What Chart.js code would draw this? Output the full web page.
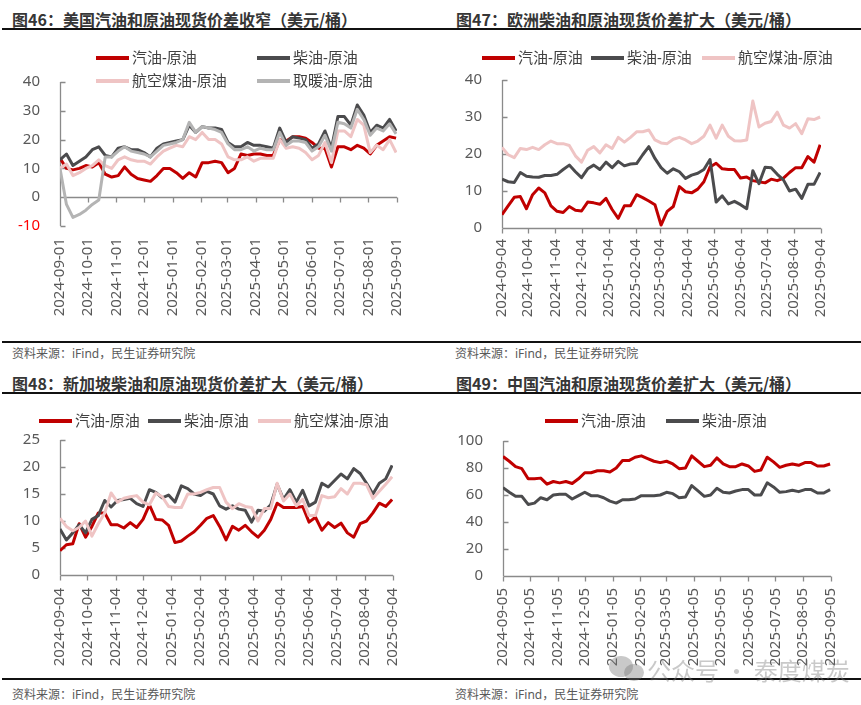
<!DOCTYPE html>
<html>
<head>
<meta charset="utf-8">
<script src="https://cdn.jsdelivr.net/npm/chart.js@4.4.1/dist/chart.umd.min.js"></script>
<style>
body{margin:0;width:861px;height:705px;position:relative;background:#fff;overflow:hidden;font-family:"Noto Sans","Noto Sans CJK SC",sans-serif}
canvas{position:absolute}
.t{position:absolute;font-weight:bold;font-size:16px;line-height:18px;color:#363636;white-space:nowrap;font-family:"Noto Sans CJK SC",sans-serif}
.hr{position:absolute;left:2px;width:859px;height:1.5px;background:#111}
.src{position:absolute;font-size:12px;line-height:14px;color:#595959;white-space:nowrap}
.lg{position:absolute;font-size:15px;line-height:18px;color:#404040;white-space:nowrap;z-index:2}
.lg i{display:inline-block;width:33px;height:3.5px;vertical-align:middle;margin-right:3px;position:relative;top:-1px}
.wm{position:absolute;left:647px;top:652px;font-size:24px;color:rgba(120,120,120,0.4);white-space:nowrap;font-family:"Noto Sans CJK SC",sans-serif;z-index:3}
.ic{position:absolute;border-radius:50%;background:rgba(120,120,120,0.4);z-index:3}
</style>
</head>
<body>
<div class="t" style="left:12px;top:10px">图46：美国汽油和原油现货价差收窄（美元/桶）</div>
<div class="t" style="left:456px;top:10px">图47：欧洲柴油和原油现货价差扩大（美元/桶）</div>
<div class="t" style="left:12px;top:374px">图48：新加坡柴油和原油现货价差扩大（美元/桶）</div>
<div class="t" style="left:456px;top:374px">图49：中国汽油和原油现货价差扩大（美元/桶）</div>
<div class="hr" style="top:28px"></div>
<div class="hr" style="top:341px"></div>
<div class="hr" style="top:392px"></div>
<div class="hr" style="top:678px"></div>
<div class="src" style="left:12px;top:347px">资料来源：iFind，民生证券研究院</div>
<div class="src" style="left:455px;top:347px">资料来源：iFind，民生证券研究院</div>
<div class="src" style="left:12px;top:688px">资料来源：iFind，民生证券研究院</div>
<div class="src" style="left:455px;top:688px">资料来源：iFind，民生证券研究院</div>
<div id="legends"></div>
<canvas id="c1"></canvas>
<canvas id="c2"></canvas>
<canvas id="c3"></canvas>
<canvas id="c4"></canvas>
<div class="ic" style="left:609px;top:656px;width:24px;height:21px"></div>
<div class="ic" style="left:624px;top:664px;width:20px;height:17px"></div>
<div class="wm">公众号 · 泰度煤炭</div>
<script>
const RED = '#c00000', DARK = '#4b4b4d', PINK = '#efc4c4', LIGHT = '#b4b4b4';
const FONT = '"Noto Sans", "Noto Sans CJK SC", sans-serif';

// tick labels
const usTicks = ['2024-09-01','2024-10-01','2024-11-01','2024-12-01','2025-01-01','2025-02-01','2025-03-01','2025-04-01','2025-05-01','2025-06-01','2025-07-01','2025-08-01','2025-09-01'];
const euTicks = ['2024-09-04','2024-10-04','2024-11-04','2024-12-04','2025-01-04','2025-02-04','2025-03-04','2025-04-04','2025-05-04','2025-06-04','2025-07-04','2025-08-04','2025-09-04'];
const sgTicks = euTicks.slice();
const cnTicks = ['2024-09-05','2024-10-05','2024-11-05','2024-12-05','2025-01-05','2025-02-05','2025-03-05','2025-04-05','2025-05-05','2025-06-05','2025-07-05','2025-08-05','2025-09-05'];

// weekly values, US
const usGas = [13.5,10,9.5,10,11,10.5,12,8,7,7.5,10.5,8,6.5,6,5.5,7.5,10,10,8.5,6.5,8.5,7,12,12,12.5,12,8.5,10,15,14.5,15,15,14.5,14.5,20,19.5,21,21,20.5,19,17,17,10.5,17.5,17.5,16.5,18,17,15,18,19.5,21,20.5];
const usDiesel = [13,15,11,12.5,14,16.5,17.5,14.5,14,17,17.5,16.5,16.5,15.5,14,17,18.5,19,19.5,20,25,22.5,24.5,24,24,23.5,19,17.5,17.5,19,18,18,17.5,17,24,19,21,20.5,20,17,18.5,23,17,28,28,25,32,28.5,22.5,25,24,27,23];
const usJet = [10,11.5,7.5,8.5,10,11,13,11,10,13,14,13,12.5,12.5,11.5,14,16,17,18,17.5,21,20,22.5,20,20,18.5,14,13,13,14,12.5,13.5,13.5,13.5,20,17,17.5,17,15.5,13,14.5,19,12,23,23,21,27,25,15.5,18,16.5,20,15.5];
const usHeat = [10,-2.5,-7,-6,-4.5,-2.5,-1,14,14,16,17.5,16,15.5,15,14,16,18,18.5,19,20,26,22.5,24.5,24,23.5,22.5,18.5,16.5,16.5,17.5,16,17,16.5,16.5,22.5,18,19.5,19.5,19,16,17.5,21.5,16,26,25.5,24,30.5,27,21.5,24,23,25.5,22];

// Europe
const euGas = [3.6,6,8.3,8.5,5.2,9,10.8,9.5,6,4.5,4.2,5.8,4.8,4.6,7,6.8,6.4,8,5,2.6,6,6,9,8.2,7.3,6.3,0.8,4.5,5.8,11.2,9.8,9.5,10.5,12.5,16.5,17.5,16,15.8,15.8,13.5,13.8,12.8,12.5,12.2,13.2,12.8,13.5,15,16.3,16.3,19.3,17.8,22.5];
const euDiesel = [13.2,12.5,12.3,15,14,13.8,13.7,14.2,14.2,14.5,15.8,17,15.2,13.6,16,17,15.8,17.8,16.3,18,16.8,17.3,17.4,19.8,22,18.8,16.3,14.8,16,15.2,13.4,14.3,14.8,15.8,18.5,7,8.7,6.5,7.2,6.3,5.2,15.5,12,16.4,16.3,14.5,13,10,10.5,8,11.8,11.8,15];
const euJet = [21.8,19.8,19,21.5,21.2,21.8,21.2,22.5,23.5,22.8,22.8,22.3,19.5,17.8,21,22,20.3,22.5,21.5,24.5,23.2,24.5,26,26,26.5,23.8,23,22.8,24,24.5,23.8,22.8,23.5,24.8,27.8,24.3,27.8,24.8,23.6,23.5,23.8,34.3,27.3,28.3,28.8,31.3,27.8,27,28.2,25.5,29.5,29.3,30];

// Singapore
const sgGas = [4.5,5.6,5.8,9.5,7,9,11.5,11.5,9.3,9.3,8.7,9.7,8.8,10.3,13,10.3,10.2,9.2,6,6.3,7.2,8,9.2,10.5,11,9,6.5,9,8.3,9.2,8,7,8.3,10.3,13.3,12.5,12.5,12.5,12.7,9.8,10.7,8.3,9.7,8.8,9.6,7.8,7,9.5,10,11.5,13.3,12.7,14];
const sgDiesel = [8.5,6.5,7.8,9.3,7.8,10.3,11,13.8,12.6,13.8,14,14.2,13.2,12.7,15.8,15.3,14.3,14.8,13.5,16.5,16,15,14.7,15.5,15,12.8,12.2,12.8,12.2,12,9.8,12,11.8,13,16.8,14,15.8,13.5,15.7,12.8,13.5,17,16.3,17.5,18.7,17.8,19.7,18.8,17,15,17,17.8,20.3];
const sgJet = [10.5,9,8.2,8.8,10,7.2,9.5,11.5,15.2,13.5,14.2,14.5,14.7,13.5,13,15.2,14.5,12.7,12.5,12.5,15,15,15.3,15.8,16.2,16.2,13.5,12.3,13.2,12.7,12.5,10,12.3,12.3,17,13.7,15,12.8,14,11,11,14.7,14.3,14.5,16,15,17,17,16.7,14.2,15.5,16.8,18.2];

// China
const cnGas = [88.5,85,81,79.5,72,72,72.5,68,70,69,70,68.5,72,76.5,76.5,78,78,77,80,85.5,85.5,88,89,87,85,84,85,83,79.5,80,89,85,81,82,87.5,83,81,81,83,81.5,77.5,78.5,88,84.5,80.5,82,83,82,84,84,81.5,81.5,83];
const cnDiesel = [65.5,62,59,59,53,54,58,56.5,60,60.5,60.5,57,59.5,62,59.5,59.5,58,55.5,54,56.5,56.5,57,59.5,59.5,59.5,60,62,61,58,58.5,67,63,59,60,65,62,61.5,63,64,64,60,60,69,66,62,62.5,63.5,62.5,64,64,61.5,61.5,64];

const dayOf = (s, start) => Math.round((Date.parse(s) - Date.parse(start)) / 864e5);

// axis lines with inward y ticks and downward x ticks on the zero line
const axisLines = {
  id: 'axisLines',
  beforeDatasetsDraw(chart) {
    const {ctx, chartArea: a, scales: {x, y}} = chart;
    const y0 = Math.round(y.getPixelForValue(0)) + 0.5;
    const l = Math.round(a.left) + 0.5;
    ctx.save();
    ctx.strokeStyle = '#8a8a8a';
    ctx.lineWidth = 1.3;
    ctx.beginPath();
    ctx.moveTo(l, a.top); ctx.lineTo(l, a.bottom);
    y.ticks.forEach(t => {
      const py = Math.round(y.getPixelForValue(t.value)) + 0.5;
      ctx.moveTo(l, py); ctx.lineTo(l + 5, py);
    });
    ctx.moveTo(l, y0); ctx.lineTo(a.right, y0);
    x.ticks.forEach(t => {
      const px = Math.round(x.getPixelForValue(t.value)) + 0.5;
      ctx.moveTo(px, y0); ctx.lineTo(px, y0 + 5);
    });
    ctx.stroke();
    ctx.restore();
  }
};

function legend(items, y) {
  const box = document.getElementById('legends');
  items.forEach(([x, label, color]) => {
    const d = document.createElement('div');
    d.className = 'lg';
    d.style.left = x + 'px';
    d.style.top = (y - 9) + 'px';
    d.innerHTML = '<i style="background:' + color + '"></i>' + label;
    box.appendChild(d);
  });
}

function makeChart(id, box, plot, ticks, yMin, yMax, yStep, gap, series) {
  const cv = document.getElementById(id);
  cv.style.left = box[0] + 'px';
  cv.style.top = box[1] + 'px';
  cv.width = box[2];
  cv.height = box[3];
  const tickDays = ticks.map(t => dayOf(t, ticks[0]));
  const yw = plot[0] - box[0];
  const xh = box[1] + box[3] - plot[3];
  return new Chart(cv, {
    type: 'line',
    data: {
      datasets: series.map((s, i) => ({
        label: s[0],
        data: s[1].map((v, k) => ({x: k * 7, y: v})),
        borderColor: s[2],
        borderWidth: 3,
        pointRadius: 0,
        tension: 0,
        borderJoinStyle: 'round',
        order: series.length - i
      }))
    },
    options: {
      responsive: false,
      animation: false,
      layout: {padding: {left: 0, top: plot[1] - box[1], right: box[0] + box[2] - plot[2], bottom: 0}},
      plugins: {legend: {display: false}, tooltip: {enabled: false}},
      scales: {
        x: {
          type: 'linear', min: 0, max: tickDays[tickDays.length - 1],
          afterBuildTicks: sc => { sc.ticks = tickDays.map(v => ({value: v})); },
          afterFit: sc => { sc.height = xh; },
          grid: {display: false, drawTicks: false},
          border: {display: false},
          ticks: {autoSkip: false, maxRotation: 90, minRotation: 90, padding: gap, color: '#595959',
            font: {size: 15, family: FONT}, callback: (v, i) => ticks[i]}
        },
        y: {
          min: yMin, max: yMax,
          afterFit: sc => { sc.width = yw; },
          grid: {display: false, drawTicks: false},
          border: {display: false},
          ticks: {stepSize: yStep, padding: 20, font: {size: 15, family: FONT},
            color: c => c.tick.value < 0 ? '#ff0000' : '#595959'}
        }
      }
    },
    plugins: [axisLines]
  });
}

makeChart('c1', [0, 35, 430, 305], [60, 82, 397, 226], usTicks, -10, 40, 10, 12, [
  ['汽油-原油', usGas, RED], ['柴油-原油', usDiesel, DARK], ['航空煤油-原油', usJet, PINK], ['取暖油-原油', usHeat, LIGHT]
]);
makeChart('c2', [430, 35, 431, 305], [502, 80, 821, 228], euTicks, 0, 40, 10, 11, [
  ['汽油-原油', euGas, RED], ['柴油-原油', euDiesel, DARK], ['航空煤油-原油', euJet, PINK]
]);
makeChart('c3', [0, 398, 430, 278], [60, 440, 393, 575], sgTicks, 0, 25, 5, 13, [
  ['汽油-原油', sgGas, RED], ['柴油-原油', sgDiesel, DARK], ['航空煤油-原油', sgJet, PINK]
]);
makeChart('c4', [430, 398, 431, 278], [503, 441, 839, 576], cnTicks, 0, 100, 20, 12, [
  ['汽油-原油', cnGas, RED], ['柴油-原油', cnDiesel, DARK]
]);

legend([[96, '汽油-原油', RED], [257, '柴油-原油', DARK]], 57);
legend([[96, '航空煤油-原油', PINK], [257, '取暖油-原油', LIGHT]], 80);
legend([[482, '汽油-原油', RED], [591, '柴油-原油', DARK], [702, '航空煤油-原油', PINK]], 57);
legend([[39, '汽油-原油', RED], [148, '柴油-原油', DARK], [258, '航空煤油-原油', PINK]], 420);
legend([[545, '汽油-原油', RED], [666, '柴油-原油', DARK]], 420);
</script>
</body>
</html>
